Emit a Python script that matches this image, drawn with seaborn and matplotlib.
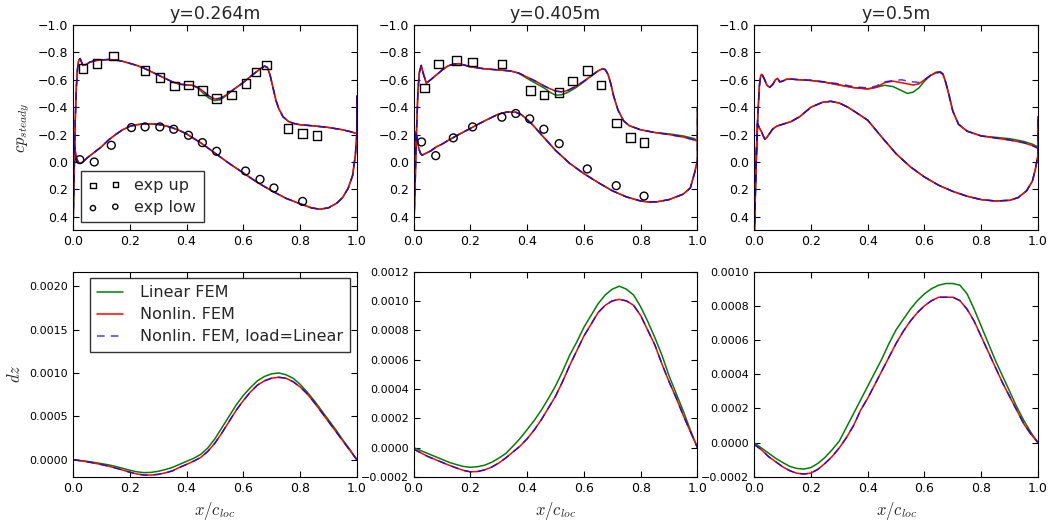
import numpy as np
import pandas as pd
import matplotlib
matplotlib.use("Agg")
import matplotlib.pyplot as plt
import seaborn as sns
from matplotlib.ticker import MultipleLocator, FuncFormatter

# ---------------- data: stations ----------------
titles = ["y=0.264m", "y=0.405m", "y=0.5m"]
series_names = ["Linear FEM", "Nonlin. FEM", "Nonlin. FEM, load=Linear"]

# ---- station 1 (y=0.264m) cp, upper surface
x_up1 = [0.0, 0.004, 0.008, 0.012, 0.016, 0.02, 0.025, 0.03, 0.035, 0.045, 0.06, 0.08, 0.1, 0.125,
         0.15, 0.175, 0.2, 0.225, 0.25, 0.275, 0.3, 0.325, 0.35, 0.375, 0.4, 0.42, 0.44, 0.46, 0.48,
         0.5, 0.52, 0.54, 0.56, 0.58, 0.6, 0.62, 0.64, 0.66, 0.675, 0.685, 0.695, 0.705, 0.715,
         0.725, 0.74, 0.76, 0.78, 0.8, 0.85, 0.9, 0.95, 0.98, 0.995, 1.0, 1.0]
cp_up1_nl = [0.55, 0.1, -0.3, -0.55, -0.68, -0.74, -0.755, -0.73, -0.705, -0.71, -0.73, -0.74, -0.745,
             -0.748, -0.745, -0.735, -0.72, -0.705, -0.685, -0.66, -0.635, -0.61, -0.585, -0.568,
             -0.563, -0.56, -0.545, -0.515, -0.48, -0.46, -0.465, -0.49, -0.52, -0.55, -0.58, -0.615,
             -0.648, -0.68, -0.70, -0.69, -0.63, -0.54, -0.45, -0.39, -0.33, -0.295, -0.28, -0.272,
             -0.263, -0.252, -0.235, -0.22, -0.21, -0.21, -0.48]
cp_up1_lin = [0.55, 0.1, -0.3, -0.55, -0.68, -0.74, -0.755, -0.73, -0.705, -0.71, -0.73, -0.74, -0.745,
              -0.748, -0.745, -0.735, -0.72, -0.705, -0.685, -0.66, -0.635, -0.61, -0.585, -0.568,
              -0.563, -0.56, -0.54, -0.5, -0.465, -0.448, -0.455, -0.485, -0.52, -0.55, -0.58, -0.615,
              -0.648, -0.68, -0.70, -0.69, -0.63, -0.54, -0.45, -0.39, -0.33, -0.295, -0.28, -0.272,
              -0.263, -0.252, -0.235, -0.22, -0.21, -0.21, -0.48]
cp_up1_nll = cp_up1_nl
# lower surface
x_lo1 = [0.0, 0.002, 0.004, 0.008, 0.012, 0.018, 0.025, 0.035, 0.05, 0.075, 0.1, 0.125, 0.15, 0.175,
         0.2, 0.225, 0.25, 0.275, 0.3, 0.325, 0.35, 0.375, 0.4, 0.45, 0.5, 0.55, 0.6, 0.65, 0.7, 0.75,
         0.8, 0.84, 0.87, 0.9, 0.93, 0.95, 0.97, 0.985, 0.995, 1.0, 1.0]
cp_lo1 = [0.55, -0.05, -0.15, -0.08, -0.03, 0.0, 0.01, 0.0, -0.03, -0.07, -0.11, -0.16, -0.2, -0.235,
          -0.26, -0.272, -0.278, -0.278, -0.274, -0.265, -0.25, -0.23, -0.205, -0.14, -0.065, 0.01,
          0.08, 0.15, 0.21, 0.265, 0.305, 0.335, 0.345, 0.335, 0.3, 0.26, 0.19, 0.1, -0.05, -0.2, -0.48]
# experiments
xe_up1 = [0.035, 0.085, 0.143, 0.254, 0.306, 0.358, 0.407, 0.456, 0.506, 0.558, 0.609, 0.645, 0.682,
          0.758, 0.809, 0.859]
cpe_up1 = [-0.683, -0.72, -0.773, -0.666, -0.617, -0.554, -0.563, -0.52, -0.463, -0.488, -0.573,
           -0.656, -0.707, -0.244, -0.207, -0.195]
xe_lo1 = [0.024, 0.075, 0.135, 0.206, 0.254, 0.306, 0.355, 0.407, 0.456, 0.506, 0.608, 0.659, 0.708, 0.809]
cpe_lo1 = [-0.017, 0.0, -0.122, -0.251, -0.256, -0.256, -0.239, -0.195, -0.141, -0.078, 0.066, 0.127,
           0.19, 0.288]

# ---- station 2 (y=0.405m)
x_up2 = [0.0, 0.005, 0.01, 0.015, 0.02, 0.027, 0.035, 0.045, 0.06, 0.08, 0.1, 0.12, 0.14, 0.16, 0.18,
         0.2, 0.25, 0.3, 0.34, 0.37, 0.4, 0.43, 0.46, 0.48, 0.5, 0.52, 0.54, 0.57, 0.6, 0.63, 0.65,
         0.665, 0.675, 0.685, 0.695, 0.705, 0.72, 0.74, 0.76, 0.8, 0.85, 0.9, 0.95, 0.99, 1.0, 1.0]
cp_up2_nl = [0.55, 0.2, -0.2, -0.5, -0.65, -0.705, -0.64, -0.575, -0.6, -0.635, -0.67, -0.7, -0.715,
             -0.718, -0.707, -0.695, -0.68, -0.672, -0.665, -0.65, -0.62, -0.59, -0.555, -0.535,
             -0.518, -0.512, -0.52, -0.55, -0.59, -0.635, -0.665, -0.68, -0.675, -0.64, -0.57, -0.48,
             -0.38, -0.30, -0.265, -0.235, -0.215, -0.2, -0.182, -0.16, -0.15, -0.4]
cp_up2_lin = [0.55, 0.2, -0.2, -0.5, -0.65, -0.705, -0.64, -0.575, -0.6, -0.635, -0.67, -0.7, -0.715,
              -0.718, -0.707, -0.695, -0.68, -0.672, -0.665, -0.648, -0.61, -0.575, -0.54, -0.51,
              -0.488, -0.49, -0.505, -0.54, -0.585, -0.635, -0.665, -0.68, -0.675, -0.64, -0.57, -0.48,
              -0.38, -0.30, -0.265, -0.235, -0.215, -0.205, -0.19, -0.17, -0.15, -0.4]
cp_up2_nll = cp_up2_nl
x_lo2 = [0.0, 0.004, 0.008, 0.012, 0.018, 0.025, 0.03, 0.04, 0.06, 0.08, 0.1, 0.12, 0.15, 0.2, 0.25,
         0.3, 0.33, 0.36, 0.38, 0.4, 0.42, 0.45, 0.5, 0.55, 0.6, 0.65, 0.7, 0.75, 0.8, 0.83, 0.86, 0.9,
         0.95, 0.975, 0.99, 1.0, 1.0]
cp_lo2 = [0.55, 0.0, -0.22, -0.18, -0.1, -0.06, -0.05, -0.06, -0.08, -0.11, -0.13, -0.155, -0.19,
          -0.245, -0.3, -0.35, -0.365, -0.363, -0.345, -0.31, -0.27, -0.2, -0.085, 0.01, 0.085, 0.15,
          0.21, 0.255, 0.285, 0.293, 0.29, 0.275, 0.235, 0.19, 0.08, -0.01, -0.15]
xe_up2 = [0.038, 0.087, 0.151, 0.208, 0.311, 0.412, 0.459, 0.513, 0.56, 0.612, 0.661, 0.714, 0.765, 0.812]
cpe_up2 = [-0.541, -0.715, -0.739, -0.729, -0.715, -0.52, -0.488, -0.507, -0.59, -0.666, -0.563,
           -0.283, -0.18, -0.141]
xe_lo2 = [0.028, 0.078, 0.14, 0.208, 0.311, 0.36, 0.409, 0.459, 0.513, 0.612, 0.714, 0.812]
cpe_lo2 = [-0.146, -0.046, -0.176, -0.256, -0.327, -0.354, -0.315, -0.239, -0.134, 0.051, 0.173, 0.249]

# ---- station 3 (y=0.5m)
x_up3 = [0.0, 0.006, 0.012, 0.018, 0.023, 0.027, 0.035, 0.045, 0.055, 0.065, 0.075, 0.082, 0.09, 0.1,
         0.115, 0.13, 0.16, 0.2, 0.25, 0.3, 0.35, 0.4, 0.43, 0.46, 0.49, 0.52, 0.54, 0.56, 0.58, 0.6,
         0.62, 0.64, 0.655, 0.665, 0.675, 0.685, 0.7, 0.72, 0.75, 0.8, 0.85, 0.9, 0.95, 0.98, 1.0, 1.0]
cp_up3_nl = [0.55, 0.1, -0.3, -0.55, -0.63, -0.64, -0.61, -0.56, -0.545, -0.565, -0.6, -0.61, -0.585,
             -0.59, -0.605, -0.605, -0.6, -0.595, -0.582, -0.562, -0.543, -0.532, -0.545, -0.58, -0.59,
             -0.578, -0.57, -0.562, -0.57, -0.6, -0.63, -0.65, -0.655, -0.64, -0.58, -0.5, -0.37,
             -0.275, -0.225, -0.19, -0.175, -0.16, -0.14, -0.12, -0.1, -0.33]
cp_up3_lin = [0.55, 0.1, -0.3, -0.55, -0.63, -0.64, -0.61, -0.56, -0.545, -0.565, -0.6, -0.61, -0.585,
              -0.59, -0.605, -0.605, -0.6, -0.595, -0.582, -0.562, -0.543, -0.535, -0.545, -0.56,
              -0.55, -0.52, -0.5, -0.51, -0.54, -0.59, -0.63, -0.655, -0.66, -0.645, -0.58, -0.5,
              -0.37, -0.275, -0.225, -0.19, -0.18, -0.17, -0.15, -0.13, -0.11, -0.33]
cp_up3_nll = [0.55, 0.1, -0.3, -0.55, -0.63, -0.64, -0.61, -0.56, -0.545, -0.565, -0.6, -0.61, -0.585,
              -0.59, -0.605, -0.605, -0.6, -0.597, -0.585, -0.57, -0.55, -0.54, -0.555, -0.585,
              -0.595, -0.6, -0.59, -0.585, -0.58, -0.6, -0.63, -0.65, -0.655, -0.64, -0.58, -0.5,
              -0.37, -0.275, -0.225, -0.19, -0.175, -0.16, -0.14, -0.12, -0.1, -0.33]
x_lo3 = [0.0, 0.006, 0.012, 0.018, 0.026, 0.032, 0.038, 0.045, 0.055, 0.065, 0.08, 0.1, 0.13, 0.16,
         0.2, 0.24, 0.27, 0.3, 0.33, 0.36, 0.4, 0.45, 0.5, 0.55, 0.6, 0.65, 0.7, 0.75, 0.8, 0.85, 0.9,
         0.93, 0.96, 0.98, 0.99, 1.0, 1.0]
cp_lo3 = [0.55, 0.0, -0.28, -0.25, -0.22, -0.19, -0.165, -0.18, -0.21, -0.24, -0.262, -0.275, -0.295,
          -0.33, -0.4, -0.435, -0.443, -0.43, -0.4, -0.36, -0.305, -0.18, -0.06, 0.035, 0.11, 0.17,
          0.215, 0.25, 0.275, 0.285, 0.28, 0.26, 0.21, 0.14, 0.06, -0.05, -0.1]

# ---------------- dz data (x/c_loc stations) ----------------
x_dz = [0.0, 0.025, 0.05, 0.075, 0.1, 0.125, 0.15, 0.175, 0.2, 0.225, 0.25, 0.275, 0.3, 0.325,
        0.35, 0.375, 0.4, 0.425, 0.45, 0.475, 0.5, 0.525, 0.55, 0.575, 0.6, 0.625, 0.65, 0.675,
        0.7, 0.725, 0.75, 0.775, 0.8, 0.825, 0.85, 0.875, 0.9, 0.925, 0.95, 0.975, 1.0]

dz1_lin = [0.0, -0.00001, -0.00002, -0.000032, -0.000046, -0.00006, -0.000078, -0.0001, -0.000122,
           -0.00014, -0.00015, -0.000147, -0.000135, -0.000115, -0.00009, -0.000055, -0.00002,
           0.000015, 0.00006, 0.000135, 0.00024, 0.00037, 0.0005, 0.00063, 0.00074, 0.00083, 0.00091,
           0.00096, 0.00099, 0.001, 0.00098, 0.00094, 0.00087, 0.00078, 0.00068, 0.00057, 0.00046,
           0.00035, 0.00023, 0.00012, 0.0]
dz1_nl = [0.0, -0.000012, -0.000025, -0.00004, -0.000057, -0.000075, -0.000097, -0.00012, -0.000145,
          -0.000165, -0.000178, -0.000178, -0.00017, -0.000153, -0.00013, -0.00009, -0.000055,
          -0.000018, 0.000025, 0.000095, 0.00019, 0.00031, 0.00044, 0.00057, 0.00068, 0.00078, 0.00086,
          0.00091, 0.00094, 0.00095, 0.00094, 0.0009, 0.00084, 0.00076, 0.00066, 0.00055, 0.00044,
          0.00033, 0.00022, 0.00011, 0.0]

dz2_lin = [0.0, -0.00002, -0.00004, -0.00006, -0.00008, -0.0001, -0.000115, -0.000128, -0.000134,
           -0.00013, -0.00012, -0.0001, -0.000072, -0.00004, 0.00001, 0.000062, 0.000123, 0.000185,
           0.000255, 0.000335, 0.00042, 0.00052, 0.00063, 0.00072, 0.00082, 0.0009, 0.00098, 0.00104,
           0.00108, 0.0011, 0.00108, 0.00104, 0.00096, 0.00086, 0.00075, 0.00063, 0.00049, 0.00037,
           0.00025, 0.00012, 0.0]
dz2_nl = [-0.00001, -0.000035, -0.00006, -0.00008, -0.0001, -0.00012, -0.000138, -0.000155, -0.000165,
          -0.000163, -0.000152, -0.000133, -0.000105, -0.00007, -0.00003, 0.00001, 0.00006, 0.00012,
          0.00019, 0.00027, 0.00035, 0.00045, 0.00056, 0.00066, 0.00076, 0.00084, 0.00092, 0.00097,
          0.001, 0.00101, 0.001, 0.00097, 0.0009, 0.0008, 0.0007, 0.00057, 0.00045, 0.00034, 0.00022,
          0.00011, 0.0]

dz3_lin = [0.0, -0.00003, -0.00006, -0.00009, -0.000115, -0.000138, -0.00015, -0.000154, -0.000145,
           -0.00012, -0.000085, -0.00004, 0.00001, 0.00009, 0.00017, 0.00025, 0.00033, 0.00041,
           0.00049, 0.00058, 0.00066, 0.00072, 0.00078, 0.00083, 0.00087, 0.0009, 0.00092, 0.00093,
           0.00093, 0.00092, 0.00087, 0.00078, 0.00068, 0.00058, 0.00048, 0.00039, 0.0003, 0.00021,
           0.00013, 0.00006, 0.0]
dz3_nl = [-0.00001, -0.00004, -0.00008, -0.00011, -0.00014, -0.000163, -0.000178, -0.000183, -0.000177,
          -0.000155, -0.00012, -0.00008, -0.00003, 0.00003, 0.0001, 0.00019, 0.00026, 0.00034,
          0.00042, 0.0005, 0.00058, 0.00065, 0.00071, 0.00076, 0.0008, 0.00083, 0.00085, 0.00085,
          0.00085, 0.00083, 0.00078, 0.00071, 0.00062, 0.00053, 0.00044, 0.00035, 0.00027, 0.00019,
          0.00011, 0.00005, 0.0]

cp_data = [
    (x_up1, cp_up1_lin, cp_up1_nl, cp_up1_nll, x_lo1, cp_lo1, xe_up1, cpe_up1, xe_lo1, cpe_lo1),
    (x_up2, cp_up2_lin, cp_up2_nl, cp_up2_nll, x_lo2, cp_lo2, xe_up2, cpe_up2, xe_lo2, cpe_lo2),
    (x_up3, cp_up3_lin, cp_up3_nl, cp_up3_nll, x_lo3, cp_lo3, None, None, None, None),
]
dz_data = [(dz1_lin, dz1_nl), (dz2_lin, dz2_nl), (dz3_lin, dz3_nl)]
dz_ylims = [(-0.0002, 0.00217), (-0.0002, 0.0012), (-0.0002, 0.0010)]
dz_steps = [0.0005, 0.0002, 0.0002]

# ---------------- style ----------------
sns.set_style("ticks", rc={
    "xtick.direction": "in", "ytick.direction": "in",
    "xtick.top": True, "ytick.right": True,
    "axes.edgecolor": "black", "axes.linewidth": 1.0,
    "xtick.color": "black", "ytick.color": "black",
})
plt.rcParams["font.family"] = ["DejaVu Sans"]
plt.rcParams["mathtext.fontset"] = "cm"
plt.rcParams["xtick.major.size"] = 4
plt.rcParams["ytick.major.size"] = 4

C_LIN = (0.0, 0.5, 0.0)
C_NL = (1.0, 0.0, 0.0)
C_NLL = (0.0, 0.0, 1.0)
LW = 1.1
DASH = (0, (5, 4))

fig, axes = plt.subplots(2, 3, figsize=(10.5, 5.21), dpi=100)
fig.subplots_adjust(left=0.0695, right=0.9886, top=0.952, bottom=0.0845, wspace=0.2, hspace=0.2)

def minus_fmt(fmt):
    return FuncFormatter(lambda v, p: (fmt % v).replace("-", "\u2212"))

for i, (ax, d) in enumerate(zip(axes[0], cp_data)):
    xu, cl, cn, cb, xl, clo, xeu, ceu, xel, cel = d
    sns.lineplot(x=xu, y=cl, ax=ax, color=C_LIN, lw=LW, sort=False, estimator=None)
    sns.lineplot(x=xl, y=clo, ax=ax, color=C_LIN, lw=LW, sort=False, estimator=None)
    sns.lineplot(x=xu, y=cn, ax=ax, color=C_NL, lw=LW, sort=False, estimator=None)
    sns.lineplot(x=xl, y=clo, ax=ax, color=C_NL, lw=LW, sort=False, estimator=None)
    sns.lineplot(x=xu, y=cb, ax=ax, color=C_NLL, lw=LW, sort=False, estimator=None,
                 linestyle=DASH, alpha=0.75)
    sns.lineplot(x=xl, y=clo, ax=ax, color=C_NLL, lw=LW, sort=False, estimator=None,
                 linestyle=DASH, alpha=0.75)
    if xeu is not None:
        sns.scatterplot(x=xeu, y=ceu, ax=ax, marker="s", s=38, facecolor="none",
                        edgecolor="black", linewidth=1.0, label="exp up", zorder=5)
        sns.scatterplot(x=xel, y=cel, ax=ax, marker="o", s=32, facecolor="none",
                        edgecolor="black", linewidth=1.0, label="exp low", zorder=5)
    ax.set_xlim(0, 1)
    ax.set_ylim(0.5, -1.0)
    ax.yaxis.set_major_locator(MultipleLocator(0.2))
    ax.xaxis.set_major_locator(MultipleLocator(0.2))
    ax.yaxis.set_major_formatter(minus_fmt("%.1f"))
    ax.xaxis.set_major_formatter(minus_fmt("%.1f"))
    ax.set_title(titles[i], fontsize=12.5, pad=4)
    ax.tick_params(labelsize=9)
    if i == 0:
        ax.set_ylabel("$cp_{steady}$", fontsize=12)
        leg = ax.legend(loc="lower left", scatterpoints=2, fontsize=11.5, frameon=True,
                        fancybox=False, edgecolor="black", borderpad=0.45, labelspacing=0.45,
                        handletextpad=0.9, handlelength=2.0, borderaxespad=0.5)
        leg.get_frame().set_linewidth(1.0)
        for h in leg.legend_handles:
            h.set_sizes([14])
    else:
        lg = ax.get_legend()
        if lg is not None:
            lg.remove()

for i, (ax, d) in enumerate(zip(axes[1], dz_data)):
    dl, dn = d
    sns.lineplot(x=x_dz, y=dl, ax=ax, color=C_LIN, lw=LW, sort=False, estimator=None, label=series_names[0])
    sns.lineplot(x=x_dz, y=dn, ax=ax, color=C_NL, lw=LW, sort=False, estimator=None, label=series_names[1])
    sns.lineplot(x=x_dz, y=dn, ax=ax, color=C_NLL, lw=LW, sort=False, estimator=None,
                 linestyle=DASH, alpha=0.75, label=series_names[2])
    ax.set_xlim(0, 1)
    ax.set_ylim(*dz_ylims[i])
    ax.yaxis.set_major_locator(MultipleLocator(dz_steps[i]))
    ax.xaxis.set_major_locator(MultipleLocator(0.2))
    ax.yaxis.set_major_formatter(minus_fmt("%.4f"))
    ax.xaxis.set_major_formatter(minus_fmt("%.1f"))
    ax.tick_params(axis="x", labelsize=9)
    ax.tick_params(axis="y", labelsize=8)
    ax.set_xlabel("$x/c_{loc}$", fontsize=12)
    if i == 0:
        ax.set_ylabel("$dz$", fontsize=12)
        leg = ax.legend(loc="upper right", fontsize=11.5, frameon=True, fancybox=False,
                        edgecolor="black", handlelength=1.65, handletextpad=1.05,
                        borderpad=0.45, labelspacing=0.45, borderaxespad=0.4)
        leg.get_frame().set_linewidth(1.0)
    else:
        ax.get_legend().remove()

fig.savefig("out.png", dpi=100)
